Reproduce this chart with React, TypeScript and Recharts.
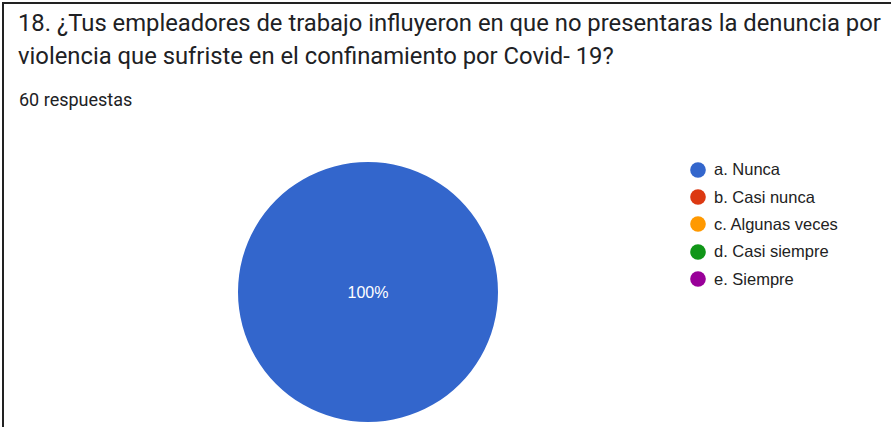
import React from "react";
import { PieChart, Pie, Cell, Legend } from "recharts";

const TITLE_LINES = [
  "18. ¿Tus empleadores de trabajo influyeron en que no presentaras la denuncia por",
  "violencia que sufriste en el confinamiento por Covid- 19?",
];
const RESPONSES = "60 respuestas";

const categories = ["a. Nunca", "b. Casi nunca", "c. Algunas veces", "d. Casi siempre", "e. Siempre"];
const counts = [60, 0, 0, 0, 0];
const colors = ["#3366cc", "#dc3912", "#ff9900", "#109618", "#990099"];

const data = categories.map((name, i) => ({ name, value: counts[i] }));

const FONT = "Roboto, Arial, sans-serif";
const CHART_FONT = "'Liberation Sans', Arial, sans-serif";

function LegendList() {
  return (
    <div style={{ fontFamily: CHART_FONT }}>
      {categories.map((name, i) => (
        <div key={name} style={{ display: "flex", alignItems: "center", height: 27.4 }}>
          <svg width={16} height={16} style={{ flex: "none" }}>
            <circle cx={8} cy={8} r={7.8} fill={colors[i]} />
          </svg>
          <span style={{ marginLeft: 8, fontSize: 16.5, color: "#222" }}>{name}</span>
        </div>
      ))}
    </div>
  );
}

function CenterLabel(props: any) {
  if (props.percent !== 1) return null;
  return (
    <text
      x={props.cx}
      y={props.cy}
      textAnchor="middle"
      dominantBaseline="central"
      fill="#fff"
      style={{ fontFamily: CHART_FONT, fontSize: 16 }}
    >
      100%
    </text>
  );
}

export default function App() {
  return (
    <div
      style={{
        position: "absolute",
        left: 0,
        top: 0,
        width: 891,
        height: 427,
        background: "#fff",
        overflow: "hidden",
      }}
    >
      <div style={{ position: "absolute", left: 2, top: 2, width: 889, height: 2, background: "#222" }} />
      <div style={{ position: "absolute", left: 2, top: 2, width: 2, height: 425, background: "#222" }} />
      <div
        style={{
          position: "absolute",
          left: 18,
          top: 7,
          fontFamily: FONT,
          fontSize: 23.8,
          lineHeight: "33px",
          color: "#202124",
          whiteSpace: "nowrap",
        }}
      >
        {TITLE_LINES.map((l) => (
          <div key={l}>{l}</div>
        ))}
      </div>
      <div
        style={{
          position: "absolute",
          left: 19,
          top: 89,
          fontFamily: FONT,
          fontSize: 18,
          color: "#202124",
        }}
      >
        {RESPONSES}
      </div>
      <div style={{ position: "absolute", left: 0, top: 0 }}>
        <PieChart width={891} height={427} margin={{ top: 0, right: 0, bottom: 0, left: 0 }}>
          <Pie
            data={data}
            dataKey="value"
            nameKey="name"
            cx={368}
            cy={292}
            outerRadius={130}
            startAngle={90}
            endAngle={-270}
            stroke="none"
            label={CenterLabel}
            labelLine={false}
            isAnimationActive={false}
          >
            {data.map((d, i) => (
              <Cell key={d.name} fill={colors[i]} />
            ))}
          </Pie>
          <Legend
            layout="vertical"
            align="right"
            verticalAlign="top"
            wrapperStyle={{ left: 690, top: 156, width: 190 }}
            content={() => <LegendList />}
          />
        </PieChart>
      </div>
    </div>
  );
}
